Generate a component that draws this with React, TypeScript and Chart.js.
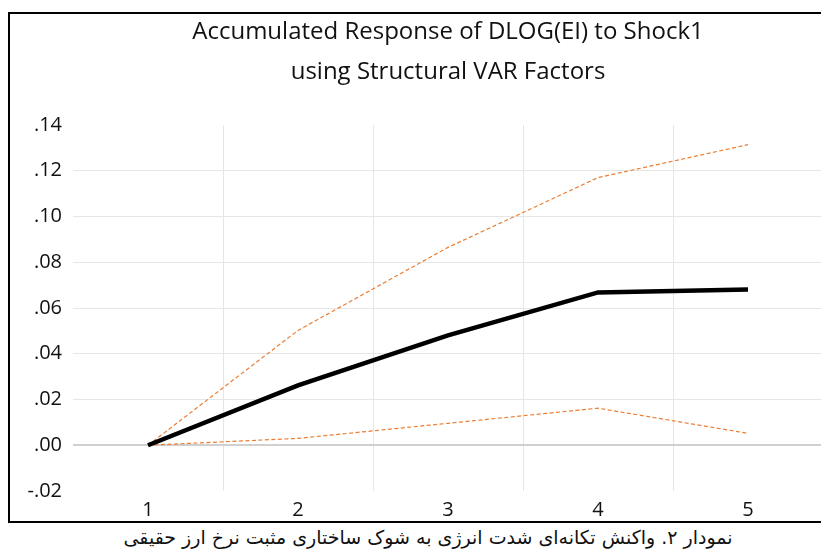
import React, { useEffect, useRef } from "react";
import { Chart, registerables } from "chart.js";

Chart.register(...registerables);

const categories = ["1", "2", "3", "4", "5"];
const responseValues = [0, 0.0262, 0.048, 0.0668, 0.0681];
const upperBand = [0, 0.0502, 0.0865, 0.117, 0.1314];
const lowerBand = [0, 0.003, 0.0096, 0.0162, 0.0052];
const yMin = -0.02;
const yMax = 0.14;
const yStep = 0.02;
const titleLines = ["Accumulated Response of DLOG(EI) to Shock1", "using Structural VAR Factors"];
const caption = "نمودار ۲. واکنش تکانه‌ای شدت انرژی به شوک ساختاری مثبت نرخ ارز حقیقی";

const FONT = '"Open Sans", "DejaVu Sans", sans-serif';

function fmtTick(v: number): string {
  const r = Math.round(v * 100) / 100;
  const s = Math.abs(r).toFixed(2).replace(/^0/, "");
  return (r < 0 ? "-" : "") + s;
}

const titlePlugin = {
  id: "centeredTitle",
  afterDraw(chart: any) {
    const { ctx, chartArea } = chart;
    ctx.save();
    ctx.font = `24px ${FONT}`;
    ctx.fillStyle = "#111";
    ctx.textAlign = "center";
    ctx.textBaseline = "alphabetic";
    const cx = (chartArea.left + chartArea.right) / 2;
    ctx.fillText(titleLines[0], cx, 25);
    ctx.fillText(titleLines[1], cx, 65);
    ctx.restore();
  },
};

export default function App() {
  const ref = useRef<HTMLCanvasElement | null>(null);

  useEffect(() => {
    if (!ref.current) return;
    const chart = new Chart(ref.current, {
      type: "line",
      data: {
        labels: categories,
        datasets: [
          {
            data: responseValues,
            borderColor: "#000",
            borderWidth: 4.5,
            pointRadius: 0,
            borderCapStyle: "butt",
            borderJoinStyle: "miter",
            tension: 0,
          },
          {
            data: upperBand,
            borderColor: "#ED7D31",
            borderWidth: 1.2,
            borderDash: [4, 2.5],
            pointRadius: 0,
            tension: 0,
          },
          {
            data: lowerBand,
            borderColor: "#ED7D31",
            borderWidth: 1.2,
            borderDash: [4, 2.5],
            pointRadius: 0,
            tension: 0,
          },
        ],
      },
      options: {
        animation: false,
        responsive: false,
        maintainAspectRatio: false,
        layout: { padding: { top: 111, right: 6, left: 0, bottom: 0 } },
        plugins: {
          legend: { display: false },
          title: { display: false },
          tooltip: { enabled: false },
        },
        scales: {
          x: {
            type: "category",
            offset: true,
            border: { display: false },
            grid: {
              offset: true,
              drawTicks: false,
              color: (ctx: any) =>
                ctx.index === undefined || ctx.index === 0 ? "rgba(0,0,0,0)" : "#e6e6e6",
              lineWidth: 1,
            },
            ticks: {
              padding: 7,
              color: "#111",
              font: { family: FONT, size: 20 },
              maxRotation: 0,
            },
            afterFit: (scale: any) => {
              scale.height = 30;
            },
          },
          y: {
            min: yMin,
            max: yMax,
            border: { display: false },
            grid: {
              drawTicks: false,
              color: (ctx: any) => {
                const v = ctx.tick ? Math.round(ctx.tick.value * 100) : NaN;
                if (v === 14 || v === -2) return "rgba(0,0,0,0)";
                if (v === 0) return "#d0d0d0";
                return "#e6e6e6";
              },
              lineWidth: (ctx: any) => {
                const v = ctx.tick ? Math.round(ctx.tick.value * 100) : NaN;
                return v === 0 ? 2 : 1;
              },
            },
            ticks: {
              stepSize: yStep,
              padding: 11,
              color: "#111",
              font: { family: FONT, size: 20 },
              callback: (v: any) => fmtTick(Number(v)),
            },
            afterFit: (scale: any) => {
              scale.width = 63;
            },
          },
        },
      },
      plugins: [titlePlugin],
    });
    return () => chart.destroy();
  }, []);

  return (
    <div style={{ position: "relative", width: 821, height: 550, overflow: "hidden", paddingTop: 0 }}>
      <div
        style={{
          position: "absolute",
          top: 4,
          left: 0,
          width: 830,
          height: 507,
          border: "2px solid #000",
        }}
      >
        <canvas ref={ref} width={819} height={507} style={{ display: "block", width: 819, height: 507 }} />
      </div>
      <div
        dir="rtl"
        style={{
          position: "absolute",
          top: 517,
          left: 0,
          width: 840,
          textAlign: "center",
          lineHeight: "24px",
          fontSize: 19,
          fontFamily: '"DejaVu Sans", sans-serif',
          color: "#111",
        }}
      >
        {caption}
      </div>
    </div>
  );
}
